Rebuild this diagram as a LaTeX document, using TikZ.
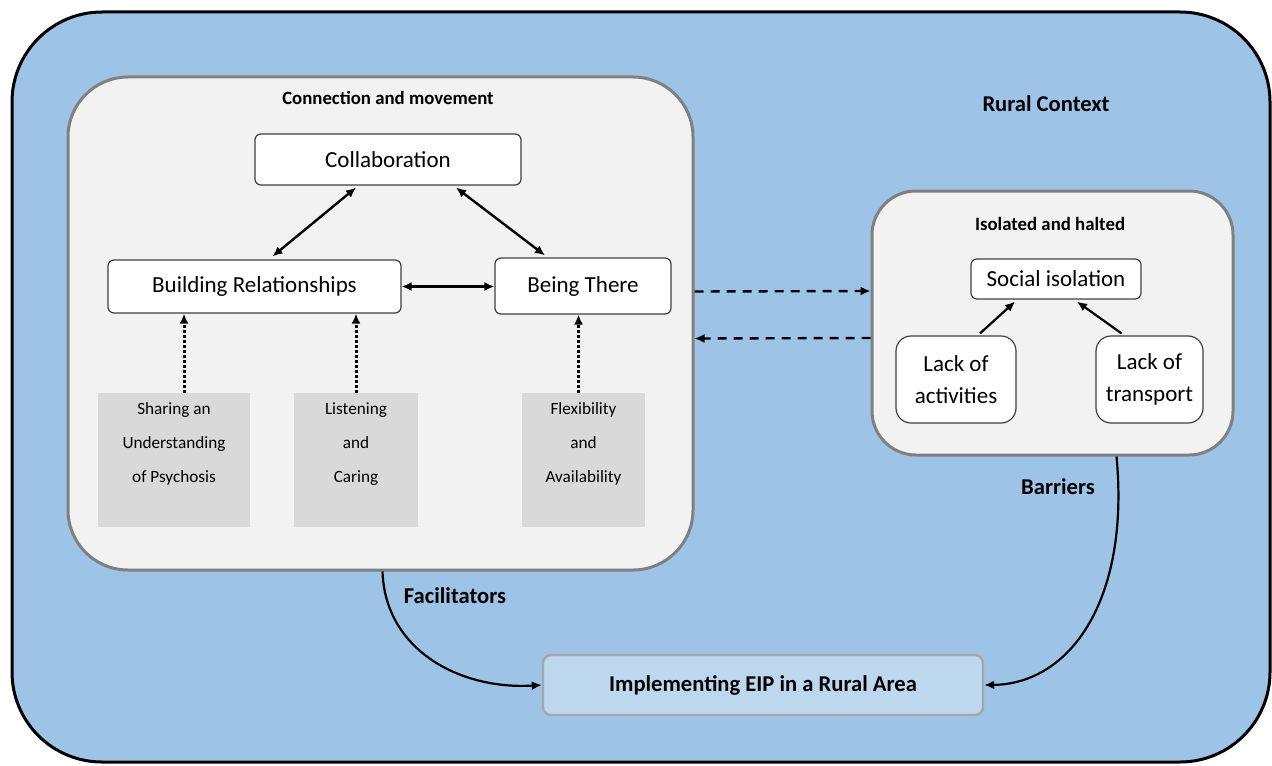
\documentclass[tikz,border=0pt]{standalone}
\usepackage{fontspec}
\setmainfont{Carlito}
\usetikzlibrary{arrows.meta}
\definecolor{ruralblue}{HTML}{9DC3E6}
\definecolor{panelfill}{HTML}{F2F2F2}
\definecolor{panelgray}{HTML}{808080}
\definecolor{factorgray}{HTML}{D9D9D9}
\definecolor{implblue}{HTML}{BDD7EE}
\definecolor{implgray}{HTML}{A6A6A6}

\begin{document}
\begin{tikzpicture}[x=0.5pt,y=-0.5pt,>={Latex[length=5pt,width=4.5pt]},
  context/.style={draw=black,line width=1.5pt,fill=ruralblue,rounded corners=45pt,minimum width=629pt,minimum height=375pt},
  panel/.style={draw=panelgray,line width=1.5pt,fill=panelfill},
  theme/.style={draw=black!75,line width=0.6pt,fill=white,rounded corners=3pt,align=center,font=\fontsize{11.5}{16}\selectfont},
  factor/.style={fill=factorgray,minimum width=#1,minimum height=67pt},
  factor text/.style={anchor=north,align=center,inner sep=0pt,font=\fontsize{8.6}{17}\selectfont},
  heading/.style={font=\fontsize{9.4}{11}\selectfont\bfseries},
  label/.style={font=\fontsize{11.3}{13}\selectfont\bfseries},
  link/.style={<->,line width=1.2pt},
  feeds/.style={->,line width=1.5pt,dash pattern=on 1.5pt off 1pt},
  flow/.style={->,line width=1.2pt,dash pattern=on 4.5pt off 3.5pt},
  lead/.style={->,line width=1.1pt}]
\useasboundingbox (0,0) rectangle (1272,765);
% rural context
\node[context] (rural) at (641,387) {};
\node[label] (ruraltitle) at (1046,104) {Rural Context};
% connection and movement
\node[panel,rounded corners=30pt,minimum width=312.5pt,minimum height=246.5pt] (conn) at (380.5,323.5) {};
\node[heading] (conntitle) at (388,98) {Connection and movement};
\node[theme,minimum width=133pt,minimum height=25.5pt] (collab) at (388,159.5) {Collaboration};
\node[theme,minimum width=146.5pt,minimum height=26.5pt] (build) at (254.5,286.5) {Building Relationships};
\node[theme,minimum width=88pt,minimum height=28pt] (being) at (583,286) {Being There};
\node[factor=76pt] (share) at (174,460) {};
\node[factor=62pt] (listen) at (356,460) {};
\node[factor=61.5pt] (flex) at (583.5,460) {};
\node[factor text] (sharetext) at (174,402) {Sharing an\\Understanding\\of Psychosis};
\node[factor text] (listentext) at (356,402) {Listening\\and\\Caring};
\node[factor text] (flextext) at (583.5,402) {Flexibility\\and\\Availability};
% isolated and halted
\node[panel,rounded corners=22pt,minimum width=180.5pt,minimum height=132pt] (isol) at (1052.5,323) {};
\node[heading] (isoltitle) at (1050,224) {Isolated and halted};
\node[theme,minimum width=85pt,minimum height=20pt] (social) at (1056,279) {Social isolation};
\node[theme,rounded corners=7.5pt,minimum width=60pt,minimum height=43.5pt] (activ) at (956,379.5) {Lack of\\activities};
\node[theme,rounded corners=7.5pt,minimum width=53.5pt,minimum height=43.5pt] (trans) at (1149.5,379.5) {Lack of\\transport};
% outcome
\node[draw=implgray,line width=1.2pt,fill=implblue,rounded corners=4pt,minimum width=220pt,minimum height=30pt,label] (impl) at (763,685) {Implementing EIP in a Rural Area};
\node[label] (factitle) at (455,596) {Facilitators};
\node[label] (bartitle) at (1058,487) {Barriers};

\draw[link] ([xshift=-16pt,yshift=-1pt]collab.south) -- ([xshift=9pt,yshift=1.5pt]build.north);
\draw[link] ([xshift=34pt,yshift=-1pt]collab.south) -- ([xshift=-19pt,yshift=1pt]being.north);
\draw[link] (build.east) -- (being.west |- build.east);
\path (share.north) ++(5pt,0) coordinate (sharetop);
\draw[feeds] (sharetop) -- (sharetop |- build.south);
\draw[feeds] (listen.north) -- (listen.north |- build.south);
\draw[feeds] ([xshift=-2.5pt]flex.north) coordinate (flextop) -- (flextop |- being.south);
\draw[lead] ([xshift=12pt,yshift=1pt]activ.north) -- ([xshift=-20.5pt,yshift=-1pt]social.south);
\draw[lead] ([xshift=-14pt,yshift=1pt]trans.north) -- ([xshift=10.5pt,yshift=-1pt]social.south);
\draw[flow] ([yshift=16pt]conn.east) -- ([yshift=16pt]isol.west);
\draw[flow] ([yshift=-7.5pt]isol.west) -- ([yshift=-7.5pt]conn.east);
\draw[lead] ([xshift=1pt]conn.south) .. controls (385,650) and (460,690) .. (impl.west);
\draw[lead] ([xshift=32pt]isol.south) .. controls (1130,600) and (1070,684) .. (impl.east);
\end{tikzpicture}
\end{document}
